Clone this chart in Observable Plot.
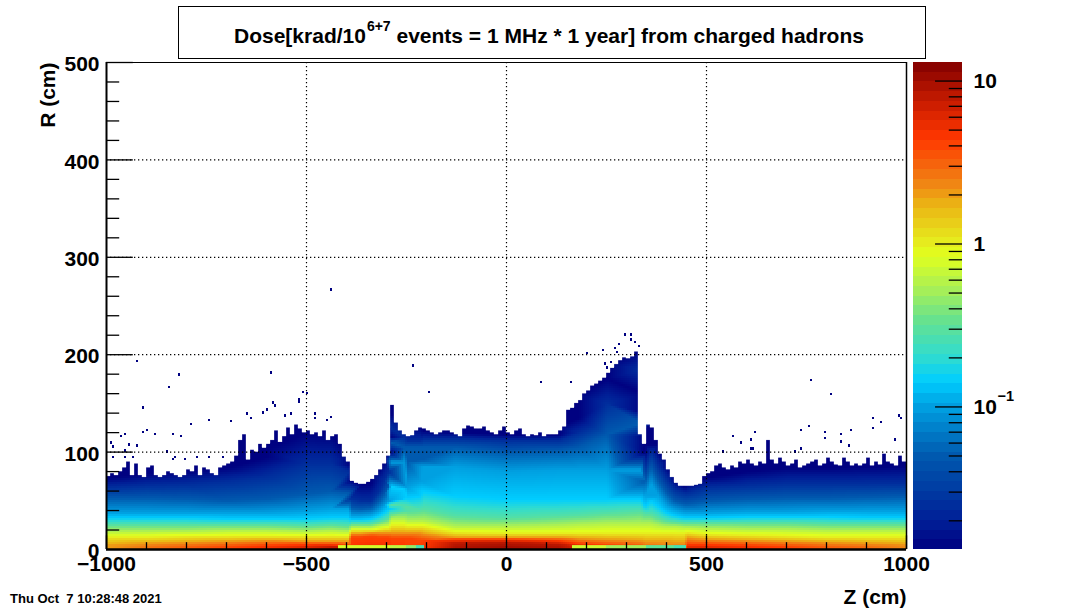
<!DOCTYPE html>
<html>
<head>
<meta charset="utf-8">
<script src="https://cdn.jsdelivr.net/npm/d3@7"></script>
<script src="https://cdn.jsdelivr.net/npm/@observablehq/plot@0.6"></script>
<style>
html,body{margin:0;padding:0;background:#fff;}
#page{position:relative;width:1068px;height:610px;overflow:hidden;font-family:"Liberation Sans",Arial,sans-serif;font-weight:bold;color:#000;}
#page svg{position:absolute;top:0;font-family:"Liberation Sans",Arial,sans-serif;font-weight:bold;}
#title{position:absolute;left:178px;top:6px;width:746px;height:51px;border:1px solid #000;background:#fff;z-index:3;}
#title span.t{position:absolute;left:55px;top:16px;font-size:21px;white-space:pre;line-height:25px;}
#title sup{font-size:14px;vertical-align:12px;line-height:0;margin-left:1px;}
#stamp{position:absolute;left:10px;top:591px;font-size:13px;white-space:pre;}
</style>
</head>
<body>
<div id="page">
  <div id="title"><span class="t">Dose[krad/10<sup>6+7</sup> events = 1 MHz * 1 year] from charged hadrons</span></div>
  <div id="stamp">Thu Oct  7 10:28:48 2021</div>
</div>
<script>
// Palette (log10 dose → colour)
const paletteLog = [-1.875,-1.708,-1.3,-1,-0.849,-0.685,-0.48,-0.276,-0.07,0.01,0.235,0.378,0.644,0.849,1.114];
const paletteRgb = ["#000080","#001e96","#005aaf","#00a0e1","#00cdff","#32dccd","#64e191","#aaf055","#e1ff1e","#e6eb1e","#ebb414","#f08214","#ff3700","#cd1e00","#820000"];

// Z knots of the dose map (cm)
const zKnots = [-1000,-900,-800,-700,-600,-500,-440,-395,-390,-365,-340,-320,-305,-295,-290,-255,-250,-215,-210,-130,0,130,180,250,335,345,360,380,400,420,445,450,500,600,700,800,900,1000];
// R (cm) at which log10(dose) falls to the given level, one value per Z knot
const rM187 = [74,78,80,84,95,120,118,100,71,67,68,82,92,100,145,125,125,125,122,120,118,118,135,175,205,100,120,100,85,72,65,67,74,80,84,84,85,86];
const rM160 = [64,66,67,70,75,88,88,80,53,50,50,60,72,80,125,115,112,112,114,114,112,112,120,150,185,85,100,85,72,62,58,58,64,66,68,68,68,68];
const rM130 = [53,53,52,50,52,57,60,58,43,42,43,50,58,65,110,105,90,92,105,105,100,102,105,118,130,70,85,70,58,50,47,47,50,52,53,53,54,55];
const rM100 = [38,38,38,38,38,40,42,42,35,35,36,40,46,50,90,90,64,70,85,85,80,82,82,82,82,55,68,55,45,41,38,38,38,39,39,40,40,40];
const rM085 = [33,33,33,32,32,32,33,33,31,31,32,35,39,42,65,62,53,55,60,55,52,52,52,52,52,45,50,44,38,35,33,33,33,34,34,34,33,33];
const rM055 = [26,26,26,26,26,25,26,25,27,27,27,29,31,33,46,45,40,41,42,35,33,35,36,38,40,37,37,33,30,29,28,28,28,28,28,27,27,27];
const rM025 = [19,19,19,20,20,19,20,19,23,23,23,25,26,27,32,32,30,30,30,24,24,25,26,27,27,27,27,25,24,24,23,23,22,21,21,20,20,20];
const rP000 = [13,13,14,14,14,14,14,14,20,20,20,21,22,22,25,25,24,24,24,18,17,17,17,17,17,17,17,17,17,17,17,18,16,15,14,13,13,13];
const rP030 = [5,7,8,9,10,9,9,9,17,17,18,18,18,18,18,18,18,18,17,13,13,13,12,11,10,9,9,9,9,8,8,13,11,10,9,8,7,6];
const rP060 = [null,null,null,null,5,6,6,5,13,13,14,13,13,13,12,12,12,10,10,11,11,10,7,5,null,null,null,null,null,null,null,6,6,5,null,null,null,null];
const rP090 = [null,null,null,null,null,null,null,null,null,null,null,null,null,null,null,null,null,null,null,7,8,6,null,null,null,null,null,null,null,null,null,null,null,null,null,null,null,null];
// log10(dose) closest to the beam line, one value per Z knot
const vBeam = [0.3,0.42,0.5,0.58,0.68,0.78,0.88,0.88,0.65,0.68,0.7,0.7,0.7,0.7,0.65,0.65,0.62,0.62,0.65,0.95,1.0,0.95,0.8,0.65,0.55,0.45,0.45,0.42,0.4,0.4,0.4,0.75,0.75,0.68,0.6,0.5,0.45,0.35];
// Padding above the top level, at the floor of the palette
const padAbove = [8,16,24,40,60,80,110,150,200];

// Upper edge of the filled region: R (cm) per 10 cm bin in Z, starting at −1000
const edgeA = [75,78,76,80,84,90,76,88,76,74, 84,86,76,74,76,80,78,76,74,76, 82,80,86,76,84,82,78,76,84,86];
const edgeB = [88,90,96,112,118,92,102,100,108,104, 108,112,122,110,116,125,118,128,124,120, 122,118,120,116,122,112,116,118,108,95];
const edgeC = [90,70,68,67,67,69,72,76,82,88,96,148,130,122,118,116,117,122,125,124,122];
const edgeD = [120,118,120,122,122,120,118,116,124,127, 126,124,124,126,122,120,118,122,126,120, 118,122,124,118,116,118,117,120,116,118];
const edgeE = [118,118,122,126,143,145,150,153,160,163, 168,170,173,176,181,186,190,194,197,196, 198,203,118,108,128,125,112,98,92,82,74,68,65,65,65,65,66,67];
const edgeF = [75,78,80,86,88,84,82,86,84,90, 88,92,88,86,90,88,112,92,88,94, 90,86,88,92,84,86,88,90,92,86, 88,94,90,87,86,94,90,86,88,86, 88,94,86,90,87,98,90,88,86,96,90];
const edgeR = [...edgeA,...edgeB,...edgeC,...edgeD,...edgeE,...edgeF];

// Isolated filled bins above the edge
const speckZ = [-439,-924,-819,-844,-909,-591,-909,-899,-879,-836,-816,-791,-746,-691,-649,-641,-609,-599,-584,-579,-554,-541,-519,-519,-509,-501,-479,-479,-449,-441,-966,-954,-991,-984,-946,-924,-954,-954,-984,-934,-849,-836,-829,-804,-774,-746,-709,
  -234,-194,86,161,296,311,311,321,281,271,241,331,201,276,246,259,251,809,914,934,979,984,914,859,834,794,794,754,734,619,609,566,586,836,854,969,541,616,609,734,719,759];
const speckR = [265,192,178,165,144,180,119,121,117,117,115,127,131,130,138,133,139,142,149,146,136,138,153,150,160,159,138,133,131,134,115,117,108,104,106,105,100,93,93,93,99,91,93,91,93,93,93,
  187,160,170,170,219,219,214,211,209,205,203,207,200,201,189,191,185,158,133,129,136,133,123,121,117,119,113,125,121,119,111,115,108,109,105,111,99,102,102,102,99,172];

// Strip along the beam line, below R = 3 cm
const stripZ1 = [-420,-340,-290,-250,-225,-205,165,250,350,420];
const stripZ2 = [-340,-290,-250,-225,-205,165,250,350,420,450];
const stripV  = [-0.12,-0.12,-0.2,-0.35,-0.6,null,-0.15,-0.3,-0.5,-0.6];

const majorR = [100,200,300,400,500];
const minorR = [20,40,60,80,120,140,160,180,220,240,260,280,320,340,360,380,420,440,460,480];
const majorZ = [-500,0,500];
const minorZ = [-900,-800,-700,-600,-400,-300,-200,-100,100,200,300,400,600,700,800,900];
const barMajor = [10,1,0.1];
const barMinor = [9,8,7,6,5,4,3,2,0.9,0.8,0.7,0.6,0.5,0.4,0.3,0.2,0.09,0.08,0.07,0.06,0.05,0.04,0.03,0.02];
const barSteps = d3.range(50);

const levels = [[-1.6,rM160],[-1.3,rM130],[-1,rM100],[-0.85,rM085],[-0.55,rM055],[-0.25,rM025],[0,rP000],[0.3,rP030],[0.6,rP060],[0.9,rP090]];
const samples = [];
zKnots.forEach((z,i)=>{
  levels.forEach(([v,arr])=>{ if(arr[i]!=null) samples.push({z,r:arr[i],v}); });
  samples.push({z,r:rM187[i],v:-1.87});
  padAbove.forEach(d=>samples.push({z,r:rM187[i]+d,v:-1.87}));
  samples.push({z,r:3.5,v:vBeam[i]});
  samples.push({z,r:0,v:vBeam[i]});
  samples.push({z,r:500,v:-1.87});
});
const edges = edgeR.map((r,i)=>({z1:-1000+i*10,z2:-990+i*10,r}));
const specks = speckZ.map((z,i)=>({z,r:speckR[i]}));
const strip = stripV.map((v,i)=>({z1:stripZ1[i],z2:stripZ2[i],v}));

const colorScale = {type:"linear",domain:paletteLog,range:paletteRgb,clamp:true};
const ink = {stroke:"#000",strokeWidth:1.3};

const main = Plot.plot({
  width:1068,height:610,marginLeft:106,marginRight:162,marginTop:62,marginBottom:61,
  style:{background:"transparent",overflow:"visible"},
  x:{domain:[-1000,1000],label:null},
  y:{domain:[0,500],label:null},
  color:colorScale,
  marks:[
    Plot.raster(samples,{x:"z",y:"r",fill:"v",interpolate:"barycentric",pixelSize:2,imageRendering:"pixelated"}),
    Plot.rect(edges,{x1:"z1",x2:"z2",y1:"r",y2:500,fill:"#fff",stroke:"#fff",strokeWidth:0.3}),
    Plot.rect(strip,{x1:"z1",x2:"z2",y1:0,y2:4,fill:d=>d.v==null?"#fff":d.v}),
    Plot.rect(specks,{x1:"z",x2:d=>d.z+5,y1:"r",y2:d=>d.r+2.5,fill:()=>-1.87,shapeRendering:"crispEdges"}),
    Plot.gridX([-500,0,500],{stroke:"#000",strokeOpacity:1,strokeDasharray:"1.3,2.7",strokeWidth:1.2}),
    Plot.gridY([100,200,300,400,500],{stroke:"#000",strokeOpacity:1,strokeDasharray:"1.3,2.7",strokeWidth:1.2}),
    Plot.ruleY(majorR,{x1:-1000,x2:-933,...ink}),
    Plot.ruleY(minorR,{x1:-1000,x2:-967,...ink}),
    Plot.ruleX(majorZ,{y1:0,y2:14,...ink}),
    Plot.ruleX(minorZ,{y1:0,y2:7,...ink}),
    Plot.ruleX([-1000,1000],{y1:0,y2:14,...ink}),
    Plot.ruleY([0],{stroke:"#000",strokeWidth:2.5}),
    Plot.ruleX([-1000],{stroke:"#000",strokeWidth:2}),
    Plot.ruleX([1000],{stroke:"#000",strokeWidth:1.5}),
    Plot.ruleY([500],{stroke:"#000",strokeWidth:1}),
    Plot.axisY({ticks:[0,100,200,300,400,500],tickSize:0,tickPadding:7,fontSize:21,label:null,tickFormat:"d",dy:2}),
    Plot.axisX({ticks:[-1000,-500,0,500,1000],tickSize:0,tickPadding:7,fontSize:21,label:null,tickFormat:"d"}),
    Plot.text(["R (cm)"],{frameAnchor:"top-left",rotate:-90,dx:-66,dy:0,textAnchor:"end",fontSize:21,fontWeight:"bold"}),
    Plot.text(["Z (cm)"],{frameAnchor:"bottom-right",dx:0,dy:54,textAnchor:"end",fontSize:21,fontWeight:"bold"})
  ]
});
main.style.left="0px";

const bar = Plot.plot({
  width:168,height:610,marginLeft:13,marginRight:106,marginTop:62,marginBottom:61,
  style:{background:"transparent",overflow:"visible"},
  x:{domain:[0,1],axis:null},
  y:{type:"log",domain:[Math.pow(10,-1.875),13],axis:null},
  color:colorScale,
  marks:[
    Plot.rect(barSteps,{x1:0,x2:1,
      y1:i=>Math.pow(10,-1.875+i*(1.114+1.875)/50),
      y2:i=>Math.pow(10,-1.875+(i+1)*(1.114+1.875)/50),
      fill:i=>-1.875+(i+0.5)*(1.114+1.875)/50,shapeRendering:"crispEdges"}),
    Plot.ruleY(barMajor,{x1:0.45,x2:1,...ink}),
    Plot.ruleY(barMinor,{x1:0.73,x2:1,...ink}),
    Plot.text(barMajor,{x:1,y:d=>d,text:d=>d===0.1?"10":String(d),dx:11,textAnchor:"start",fontSize:21,fontWeight:"bold",lineAnchor:"middle"}),
    Plot.text([0.1],{x:1,y:d=>d,text:()=>"−1",dx:35,dy:-11,textAnchor:"start",fontSize:14.5,fontWeight:"bold"})
  ]
});
bar.style.left="900px";

const page = document.getElementById("page");
page.appendChild(main);
page.appendChild(bar);
</script>
</body>
</html>
